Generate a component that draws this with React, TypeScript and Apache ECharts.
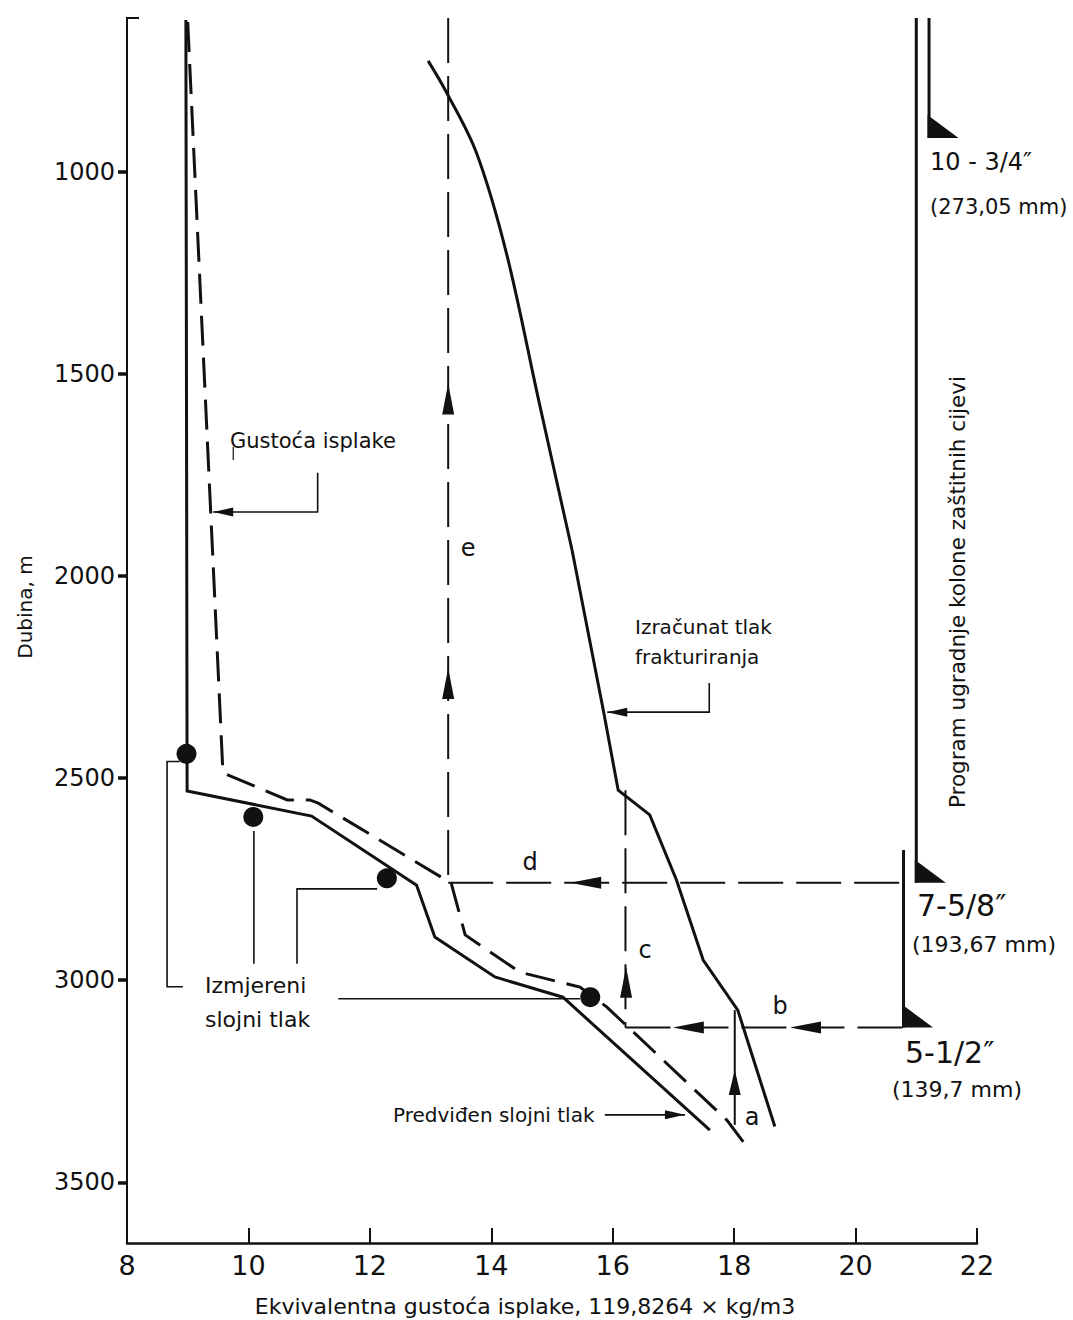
import React, { useEffect, useRef } from "react";
import * as echarts from "echarts";

// ---------- DATA (x: equivalent mud density, y: depth in m) ----------
const depthTicks = [1000, 1500, 2000, 2500, 3000, 3500];

// Gustoća isplake (mud density, dashed)
const mudDensity: [number, number][] = [
  [9.0, 630], [9.58, 2487], [10.64, 2554], [11.01, 2554], [11.15, 2562],
  [13.34, 2760], [13.57, 2888], [14.47, 2980], [15.46, 3017], [15.9, 3066],
  [17.88, 3346], [18.15, 3400],
];

// Predviđen slojni tlak (predicted pore pressure, solid)
const predictedPore: [number, number][] = [
  [8.97, 625], [8.99, 2532], [11.04, 2594], [12.77, 2765], [13.07, 2893],
  [14.06, 2992], [15.18, 3042], [17.6, 3371],
];

// Izračunat tlak frakturiranja (fracture pressure): curved upper part + straight lower part
const fractureUpper: [number, number][] = [
  [12.96, 726], [13.27, 806], [13.76, 955], [14.25, 1202], [14.78, 1565], [15.33, 1936],
];
const fractureLower: [number, number][] = [
  [15.33, 1936], [15.85, 2336], [16.09, 2530],
  [16.61, 2591], [17.05, 2752], [17.49, 2950], [18.06, 3074], [18.67, 3362],
];

// Izmjereni slojni tlak (measured pore pressure points)
const measuredPore: [number, number][] = [
  [8.98, 2440], [10.08, 2596], [12.28, 2748], [15.63, 3042],
];

// Design steps a-e
const stepA: [number, number][] = [[18.01, 3074], [18.01, 3358]];
const stepB: [number, number][] = [[16.21, 3117], [20.79, 3117]];
const stepC: [number, number][] = [[16.21, 2530], [16.21, 3117]];
const stepD: [number, number][] = [[13.29, 2759], [20.79, 2759]];
const stepE: [number, number][] = [[13.29, 620], [13.29, 2759]];

// Casing program (Program ugradnje kolone zaštitnih cijevi)
const casing1034: [number, number][] = [[21.21, 620], [21.21, 917]];
const casing758: [number, number][] = [[21.0, 620], [21.0, 2759]];
const casing512: [number, number][] = [[20.79, 2678], [20.79, 3117]];
const casingShoes: [number, number][] = [[21.21, 917], [21.0, 2759], [20.79, 3117]];

// Leader lines of the annotations
const leaderMud: [number, number][] = [[11.14, 1745], [11.14, 1842], [9.42, 1842]];
const leaderMudTick: [number, number][] = [[9.75, 1681], [9.75, 1713]];
const leaderFrac: [number, number][] = [[17.59, 2265], [17.59, 2337], [15.91, 2337]];
const leaderPred: [number, number][] = [[15.87, 3333], [17.19, 3333]];
const leaderMeas1: [number, number][] = [[8.87, 2459], [8.66, 2459], [8.66, 3016], [8.92, 3016]];
const leaderMeas2: [number, number][] = [[10.09, 2631], [10.09, 2959]];
const leaderMeas3: [number, number][] = [[12.12, 2774], [10.8, 2774], [10.8, 2959]];
const leaderMeas4: [number, number][] = [[11.48, 3046], [15.46, 3046]];

// Arrow heads (tip position in data units, direction, kind)
const arrowTips = [
  { x: 13.29, depth: 1524, dir: "up", kind: "guide" },
  { x: 13.29, depth: 2228, dir: "up", kind: "guide" },
  { x: 15.3, depth: 2759, dir: "left", kind: "guide" },
  { x: 16.22, depth: 2967, dir: "up", kind: "guide" },
  { x: 16.99, depth: 3117, dir: "left", kind: "guide" },
  { x: 18.92, depth: 3117, dir: "left", kind: "guide" },
  { x: 18.01, depth: 3222, dir: "up", kind: "short" },
  { x: 9.42, depth: 1842, dir: "left", kind: "leader" },
  { x: 15.91, depth: 2337, dir: "left", kind: "leader" },
  { x: 17.19, depth: 3333, dir: "right", kind: "leader" },
];

// ---------- STYLE ----------
const INK = "#111";
const FONT = "DejaVu Sans";
const ARROW_SIZE: Record<string, { len: number; w: number }> = {
  guide: { len: 31, w: 12 },
  short: { len: 25, w: 12 },
  leader: { len: 20, w: 9 },
};
const SHOE = { w: 31, h: 23 };

const lineSeries = (data: [number, number][], width: number, type: any = "solid", smooth: any = false) => ({
  type: "line",
  data,
  symbol: "none",
  showSymbol: false,
  silent: true,
  clip: false,
  smooth,
  z: 3,
  lineStyle: { color: INK, width, type, cap: "butt", join: "miter" },
});

const text = (t: string, x: number, y: number, size: number, extra: any = {}) => ({
  type: "text",
  x,
  y,
  ...extra,
  style: {
    text: t,
    fill: INK,
    font: `${size}px "${FONT}"`,
    textAlign: extra.align || "left",
    textVerticalAlign: "middle",
  },
});

export default function App() {
  const ref = useRef<HTMLDivElement>(null);

  useEffect(() => {
    if (!ref.current) return;
    const chart = echarts.init(ref.current, null, { renderer: "svg" });

    const option: any = {
      animation: false,
      backgroundColor: "#fff",
      grid: { left: 127, right: 96, top: 18, bottom: 77, outerBoundsMode: "none", containLabel: false },
      xAxis: {
        type: "value",
        min: 8,
        max: 22,
        interval: 2,
        axisLine: { show: true, lineStyle: { color: INK, width: 2.5 } },
        axisTick: { show: true, inside: true, length: 15, lineStyle: { color: INK, width: 2 } },
        axisLabel: { color: INK, fontSize: 27, fontFamily: FONT, margin: 9 },
        splitLine: { show: false },
      },
      yAxis: {
        type: "value",
        inverse: true,
        min: 620,
        max: 3650,
        axisLine: { show: true, lineStyle: { color: INK, width: 2 } },
        axisTick: { show: true, inside: false, length: 9, customValues: depthTicks, lineStyle: { color: INK, width: 3.5 } },
        axisLabel: {
          color: INK,
          fontSize: 24,
          fontFamily: FONT,
          margin: 12,
          customValues: depthTicks,
          formatter: (v: number) => String(v),
        },
        splitLine: { show: false },
      },
      series: [
        lineSeries(predictedPore, 3),
        lineSeries(mudDensity, 3, [30, 12]),
        lineSeries(fractureUpper, 3, "solid", 0.35),
        lineSeries(fractureLower, 3),
        lineSeries(stepE, 2, [45, 13]),
        lineSeries(stepD, 2, [45, 13]),
        lineSeries(stepC, 2, [45, 13]),
        lineSeries(stepB, 2, [45, 13]),
        lineSeries(stepA, 2),
        lineSeries(casing1034, 3),
        lineSeries(casing758, 3),
        lineSeries(casing512, 3),
        lineSeries(leaderMud, 1.6),
        lineSeries(leaderMudTick, 1.2),
        lineSeries(leaderFrac, 1.6),
        lineSeries(leaderPred, 1.6),
        lineSeries(leaderMeas1, 1.6),
        lineSeries(leaderMeas2, 1.6),
        lineSeries(leaderMeas3, 1.6),
        lineSeries(leaderMeas4, 1.6),
        {
          type: "scatter",
          data: measuredPore,
          symbol: "circle",
          symbolSize: 20,
          itemStyle: { color: INK, opacity: 1 },
          silent: true,
          z: 6,
        },
        {
          type: "custom",
          coordinateSystem: "cartesian2d",
          data: arrowTips.map((a) => [a.x, a.depth]),
          silent: true,
          z: 7,
          renderItem: (params: any, api: any) => {
            const a = arrowTips[params.dataIndex];
            const s = ARROW_SIZE[a.kind];
            const p = api.coord([api.value(0), api.value(1)]);
            let pts: number[][];
            if (a.dir === "up") {
              pts = [[p[0], p[1]], [p[0] - s.w / 2, p[1] + s.len], [p[0] + s.w / 2, p[1] + s.len]];
            } else if (a.dir === "left") {
              pts = [[p[0], p[1]], [p[0] + s.len, p[1] - s.w / 2], [p[0] + s.len, p[1] + s.w / 2]];
            } else {
              pts = [[p[0], p[1]], [p[0] - s.len, p[1] - s.w / 2], [p[0] - s.len, p[1] + s.w / 2]];
            }
            return { type: "polygon", shape: { points: pts }, style: { fill: INK } };
          },
        },
        {
          type: "custom",
          coordinateSystem: "cartesian2d",
          data: casingShoes,
          silent: true,
          z: 7,
          renderItem: (params: any, api: any) => {
            const p = api.coord([api.value(0), api.value(1)]);
            const x0 = p[0] - 1.5;
            return {
              type: "polygon",
              shape: { points: [[x0, p[1] - SHOE.h], [x0, p[1]], [x0 + SHOE.w, p[1]]] },
              style: { fill: INK },
            };
          },
        },
      ],
      graphic: [
        { type: "line", shape: { x1: 126, y1: 18, x2: 139, y2: 18 }, style: { stroke: INK, lineWidth: 2 } },
        text("Dubina, m", 25, 607, 20, { rotation: Math.PI / 2, align: "center" }),
        text("Ekvivalentna gustoća isplake, 119,8264 × kg/m3", 525, 1306, 22, { align: "center" }),
        text("Program ugradnje kolone zaštitnih cijevi", 957, 592, 21.5, { rotation: Math.PI / 2, align: "center" }),
        text("Gustoća isplake", 230, 441, 21),
        text("Izračunat tlak", 635, 627, 20),
        text("frakturiranja", 635, 657, 20),
        text("Izmjereni", 205, 985, 22),
        text("slojni tlak", 205, 1019, 22),
        text("Predviđen slojni tlak", 393, 1115, 20),
        text("e", 468, 548, 24, { align: "center" }),
        text("d", 530, 862, 24, { align: "center" }),
        text("c", 645, 950, 24, { align: "center" }),
        text("b", 780, 1006, 24, { align: "center" }),
        text("a", 752, 1117, 24, { align: "center" }),
        text("10 - 3/4″", 930, 162, 24),
        text("(273,05 mm)", 930, 207, 21),
        text("7-5/8″", 917, 905, 30),
        text("(193,67 mm)", 912, 944, 22),
        text("5-1/2″", 905, 1052, 30),
        text("(139,7 mm)", 892, 1089, 22),
      ],
    };

    chart.setOption(option);
    return () => chart.dispose();
  }, []);

  return (
    <div
      ref={ref}
      style={{ position: "absolute", left: 0, top: 0, width: 1073, height: 1320, background: "#fff" }}
    />
  );
}
